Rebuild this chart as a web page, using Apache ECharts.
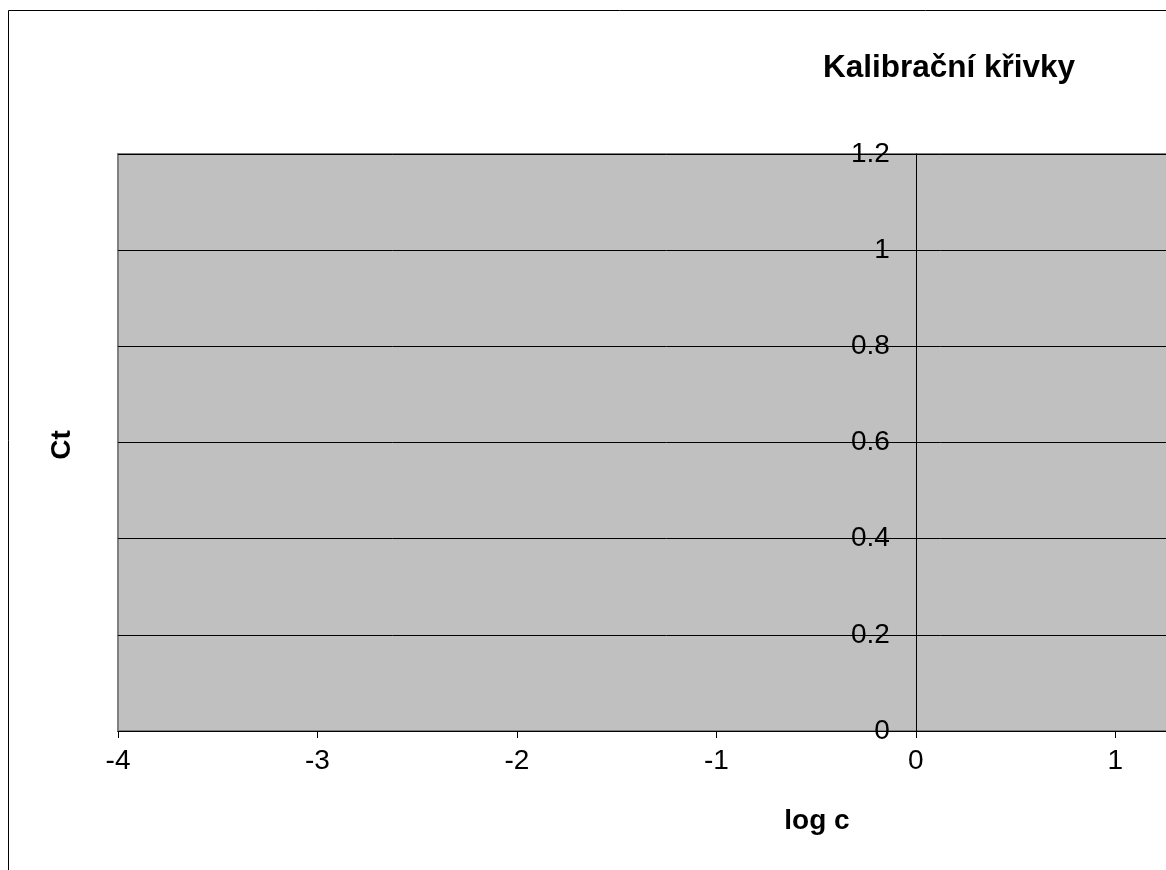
<!DOCTYPE html>
<html>
<head>
<meta charset="utf-8">
<script src="https://cdn.jsdelivr.net/npm/echarts@6/dist/echarts.min.js"></script>
<style>
  html, body { margin: 0; padding: 0; background: #fff; overflow: hidden; }
  #chart { width: 1230px; height: 870px; }
</style>
</head>
<body>
<div id="chart"></div>
<script>
// osy a data (graf je prázdný – kalibrační body zatím nejsou)
const xRange = [-4, 1.5];
const xStep = 1;
const yRange = [0, 1.2];
const yStep = 0.2;
const seriesNames = ['Kalibrace'];
const seriesPoints = [[]];

const font = 'Arial, "Liberation Sans", sans-serif';
const gridLeft = 118;
const gridWidth = 1097;

// osa Y leží v x = 0
const yAxisShift = -(0 - xRange[0]) / (xRange[1] - xRange[0]) * gridWidth;

const chart = echarts.init(document.getElementById('chart'));

const option = {
    animation: false,
    backgroundColor: '#ffffff',
    title: {
        text: 'Kalibrační křivky',
        left: 944,
        top: 47,
        textAlign: 'center',
        textStyle: { fontFamily: font, fontSize: 31.5, fontWeight: 'bold', color: '#000' },
    },
    grid: {
        left: gridLeft,
        top: 154,
        width: gridWidth,
        height: 577,
        show: true,
        backgroundColor: '#c0c0c0',
        borderColor: '#808080',
        borderWidth: 2,
    },
    xAxis: {
        type: 'value',
        min: xRange[0],
        max: xRange[1],
        interval: xStep,
        axisLine: { onZero: false, lineStyle: { color: '#000', width: 1 } },
        axisTick: { show: true, length: 7, lineStyle: { color: '#000' } },
        axisLabel: { margin: 16, fontFamily: font, fontSize: 28, color: '#000', showMaxLabel: false },
        splitLine: { show: false },
    },
    yAxis: {
        type: 'value',
        min: yRange[0],
        max: yRange[1],
        interval: yStep,
        offset: yAxisShift,
        axisLine: { show: true, onZero: false, lineStyle: { color: '#000', width: 1 } },
        axisTick: { show: true, length: 7, lineStyle: { color: '#000' } },
        axisLabel: {
            margin: 26,
            fontFamily: font,
            fontSize: 28,
            color: '#000',
            formatter: (v) => String(Math.round(v * 10) / 10),
        },
        splitLine: { show: true, lineStyle: { color: '#000', width: 1 } },
    },
    series: seriesNames.map((name, i) => ({
        name: name,
        type: 'scatter',
        data: seriesPoints[i],
    })),
    graphic: [
        {
            type: 'rect',
            shape: { x: 8.5, y: 10.5, width: 1400, height: 1000 },
            style: { fill: 'none', stroke: '#000', lineWidth: 1 },
            z: -1,
        },
        {
            type: 'text',
            x: 817,
            y: 821,
            style: {
                text: 'log c',
                font: 'bold 28px ' + font,
                fill: '#000',
                textAlign: 'center',
                textVerticalAlign: 'middle',
            },
        },
        {
            type: 'text',
            x: 62,
            y: 445,
            rotation: Math.PI / 2,
            style: {
                text: 'Ct',
                font: 'bold 28px ' + font,
                fill: '#000',
                textAlign: 'center',
                textVerticalAlign: 'middle',
            },
        },
    ],
};

chart.setOption(option);
</script>
</body>
</html>
